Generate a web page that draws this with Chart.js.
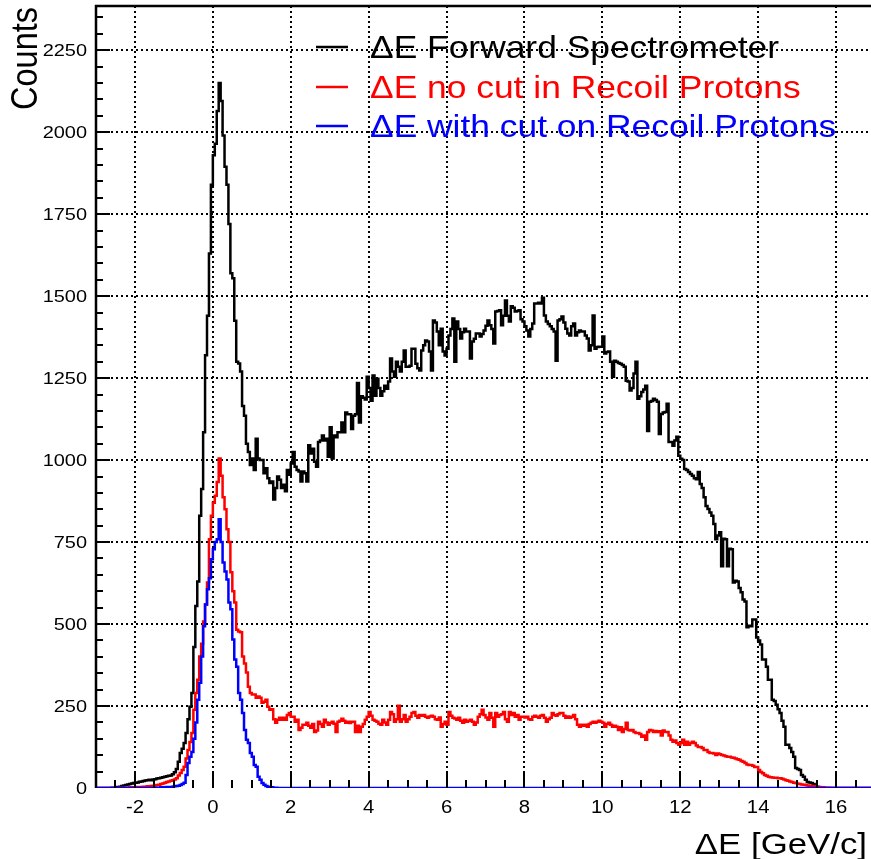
<!DOCTYPE html>
<html>
<head>
<meta charset="utf-8">
<script src="https://cdn.jsdelivr.net/npm/chart.js@4.4.1/dist/chart.umd.min.js"></script>
<style>
  html, body { margin: 0; padding: 0; background: #ffffff; overflow: hidden; }
  #wrap { width: 871px; height: 859px; overflow: hidden; position: relative; }
  canvas { display: block; }
</style>
</head>
<body>
<div id="wrap"><canvas id="c" width="880" height="859"></canvas></div>
<script>
// ---- Data (histograms, bin width 0.05 starting at -3) ----
const binStart = -3;
const binWidth = 0.05;

const forwardCounts = [
  0,0,0,0,0,0,0,0,0,1, 1,2,3,4,6,8,9,11,12,14,
  15,16,17,19,20,21,23,24,25,24, 26,27,29,30,31,33,34,36,37,38,
  42,48,58,80,107,120,137,168,210,248, 290,430,555,630,830,912,1085,1320,1440,1630,
  1840,1930,1965,2065,2150,2095,1990,1895,1840,1720, 1570,1555,1425,1300,1295,1270,1165,1135,1050,1025,
  985,1005,970,1065,1005,1000,1000,960,975,945, 930,935,880,915,950,940,915,925,905,970,
  955,990,1025,980,970,965,935,965,960,935, 1045,1020,1035,995,980,1055,1060,1075,1060,1065,
  1010,1100,1005,1075,1070,1085,1085,1115,1085,1145, 1140,1140,1095,1135,1140,1235,1115,1195,1190,1185,
  1254,1220,1181,1258,1196,1248,1220,1196,1210,1227, 1218,1240,1310,1270,1254,1300,1285,1270,1300,1334,
  1285,1285,1288,1340,1340,1294,1280,1273,1334,1350, 1365,1362,1331,1273,1426,1420,1392,1350,1401,1331,
  1319,1340,1380,1400,1432,1300,1423,1400,1371,1390, 1401,1392,1392,1310,1362,1370,1386,1386,1377,1385,
  1395,1410,1426,1411,1400,1356,1453,1455,1457,1411, 1440,1487,1440,1423,1469,1465,1453,1455,1457,1430,
  1423,1408,1395,1377,1400,1417,1478,1478,1480,1478, 1495,1441,1423,1415,1408,1400,1392,1303,1426,1430,
  1438,1420,1401,1386,1380,1408,1417,1380,1390,1395, 1392,1392,1380,1371,1334,1350,1441,1340,1345,1346,
  1346,1377,1325,1330,1331,1300,1254,1303,1300,1296, 1294,1290,1285,1242,1240,1212,1220,1264,1300,1187,
  1195,1208,1215,1227,1089,1178,1180,1187,1183,1178, 1080,1141,1145,1147,1172,1055,1055,1044,1060,1071,
  1013,1004,1000,973,970,964,958,952,945,942, 964,927,915,887,860,851,840,830,805,759,
  770,780,676,760,759,676,730,728,627,632, 630,610,597,575,569,490,495,493,514,514,
  459,450,438,392,392,370,330,330,269,265, 254,240,229,205,187,132,132,122,110,95,
  61,58,55,40,34,25,18,17,15,12, 6,4,2,1,1,0,0,0,0,0,
  0,0,0,0,0,0,0,0,0,0, 0,0,0,0,0,0,0,0,0,0
];

const noCutCounts = [
  0,0,0,0,0,0,0,0,0,0, 0,0,0,1,0,1,1,1,2,2,
  2,2,3,3,3,4,4,5,5,6, 7,8,9,10,12,14,16,18,20,22,
  24,26,30,38,46,55,65,90,116,140, 168,239,290,330,401,440,508,560,627,759,
  830,870,891,933,1005,952,887,850,789,750, 658,600,566,483,477,475,401,380,352,309,
  290,285,285,275,279,275,260,263,269,248, 239,240,210,199,208,214,208,214,208,223,
  229,217,217,202,208,177,184,193,193,199, 190,184,195,171,175,202,195,187,208,200,
  193,198,202,196,171,202,205,211,205,199, 202,198,202,202,171,190,171,187,195,208,
  217,232,220,208,205,202,196,193,208,200, 193,208,232,225,202,210,251,202,210,223,
  202,210,217,229,232,220,214,223,220,223, 217,214,218,220,217,210,208,215,187,195,
  202,193,232,220,214,212,208,214,205,199, 208,202,205,208,202,193,200,217,225,239,
  223,215,208,229,214,187,229,217,223,225, 232,210,202,232,223,229,217,223,208,217,
  217,215,217,210,208,217,220,217,214,220, 223,214,202,210,214,229,223,220,225,229,
  229,220,214,218,214,217,223,210,193,187, 193,190,193,187,195,199,202,199,202,205,
  202,199,187,195,199,193,187,190,187,177, 185,171,180,199,177,175,177,171,168,168,
  165,156,160,147,171,177,175,171,174,171, 173,160,175,171,171,160,147,141,145,137,
  132,137,147,132,141,132,137,141,137,130, 125,125,122,116,116,110,107,107,105,101,
  105,103,101,99,97,95,95,93,92,90, 88,86,82,80,76,72,70,70,68,64,
  64,55,49,45,40,37,34,33,32,31, 31,30,30,28,26,24,22,20,18,16,
  15,13,12,11,10,9,8,7,6,5, 4,3,3,2,2,1,1,1,0,0,
  0,0,0,0,0,0,0,0,0,0, 0,0,0,0,0,0,0,0,0,0
];

const withCutCounts = [
  0,0,0,0,0,0,0,0,0,0, 0,0,0,0,0,0,0,0,0,0,
  0,0,0,0,0,0,0,0,0,0, 0,1,1,1,2,2,2,3,3,3,
  4,5,6,7,9,12,16,40,76,95, 110,150,200,269,321,401,493,560,606,640,
  698,728,750,759,820,750,688,660,636,566, 545,453,392,370,290,269,229,177,147,137,
  107,95,70,65,34,25,15,10,6,4, 2,2,1,1,0,0,0,0,0,0,
  0,0,0,0,0,0,0,0,0,0, 0,0,0,0,0,0,0,0,0,0,
  0,0,0,0,0,0,0,0,0,0, 0,0,0,0,0,0,0,0,0,0,
  0,0,0,0,0,0,0,0,0,0, 0,0,0,0,0,0,0,0,0,0,
  0,0,0,0,0,0,0,0,0,0, 0,0,0,0,0,0,0,0,0,0,
  0,0,0,0,0,0,0,0,0,0, 0,0,0,0,0,0,0,0,0,0,
  0,0,0,0,0,0,0,0,0,0, 0,0,0,0,0,0,0,0,0,0,
  0,0,0,0,0,0,0,0,0,0, 0,0,0,0,0,0,0,0,0,0,
  0,0,0,0,0,0,0,0,0,0, 0,0,0,0,0,0,0,0,0,0,
  0,0,0,0,0,0,0,0,0,0, 0,0,0,0,0,0,0,0,0,0,
  0,0,0,0,0,0,0,0,0,0, 0,0,0,0,0,0,0,0,0,0,
  0,0,0,0,0,0,0,0,0,0, 0,0,0,0,0,0,0,0,0,0,
  0,0,0,0,0,0,0,0,0,0, 0,0,0,0,0,0,0,0,0,0,
  0,0,0,0,0,0,0,0,0,0, 0,0,0,0,0,0,0,0,0,0,
  0,0,0,0,0,0,0,0,0,0, 0,0,0,0,0,0,0,0,0,0,
  0,0,0,0,0,0,0,0,0,0, 0,0,0,0,0,0,0,0,0,0
];

const seriesLabels = [
  "\u0394E Forward Spectrometer",
  "\u0394E no cut in Recoil Protons",
  "\u0394E with cut on Recoil Protons"
];
const seriesColors = ["#000000", "#ff0000", "#0000ff"];

const xTickValues = [-2, 0, 2, 4, 6, 8, 10, 12, 14, 16];
const xTickLabels = ["-2", "0", "2", "4", "6", "8", "10", "12", "14", "16"];
const yTickValues = [0, 250, 500, 750, 1000, 1250, 1500, 1750, 2000, 2250];
const yTickLabels = ["0", "250", "500", "750", "1000", "1250", "1500", "1750", "2000", "2250"];
const xMinorStep = 0.5;
const yMinorStep = 50;
const xTitle = "\u0394E [GeV/c]";
const yTitle = "Counts";

// ---- build points ----
function toPoints(counts) {
  const pts = counts.map((v, i) => ({ x: binStart + i * binWidth, y: v }));
  pts.push({ x: binStart + counts.length * binWidth, y: counts[counts.length - 1] });
  return pts;
}

const FONT = '"Liberation Sans", Arial, Helvetica, sans-serif';
const SX = 1.16; // horizontal text stretch

function stretchedText(ctx, txt, x, y, size, align, color) {
  ctx.save();
  ctx.translate(x, y);
  ctx.scale(SX, 1);
  ctx.font = size + 'px ' + FONT;
  ctx.fillStyle = color;
  ctx.textAlign = align;
  ctx.textBaseline = 'alphabetic';
  ctx.fillText(txt, 0, 0);
  ctx.restore();
}

const rootStyle = {
  id: 'rootStyle',
  beforeDatasetsDraw(chart) {
    const ctx = chart.ctx;
    const a = chart.chartArea;
    const xs = chart.scales.x, ys = chart.scales.y;
    ctx.save();
    ctx.strokeStyle = '#000';
    ctx.lineWidth = 2;
    ctx.setLineDash([2, 3]);
    xTickValues.forEach(v => {
      const px = Math.round(xs.getPixelForValue(v));
      ctx.beginPath(); ctx.moveTo(px, a.top); ctx.lineTo(px, a.bottom); ctx.stroke();
    });
    yTickValues.forEach(v => {
      if (v === 0) return;
      const py = Math.round(ys.getPixelForValue(v));
      ctx.beginPath(); ctx.moveTo(a.left, py); ctx.lineTo(a.right, py); ctx.stroke();
    });
    ctx.restore();
  },
  afterDatasetsDraw(chart) {
    const ctx = chart.ctx;
    const a = chart.chartArea;
    const xs = chart.scales.x, ys = chart.scales.y;
    ctx.save();
    ctx.setLineDash([]);
    ctx.strokeStyle = '#000';
    // frame
    ctx.lineWidth = 2.5;
    ctx.beginPath();
    ctx.moveTo(a.left, a.bottom); ctx.lineTo(a.left, a.top); ctx.lineTo(a.right, a.top);
    ctx.stroke();
    // x ticks
    ctx.lineWidth = 2;
    for (let v = xs.min + xMinorStep; v < xs.max - 1e-9; v += xMinorStep) {
      const major = xTickValues.some(t => Math.abs(t - v) < 1e-6);
      const px = Math.round(xs.getPixelForValue(v));
      ctx.beginPath();
      ctx.moveTo(px, a.bottom);
      ctx.lineTo(px, a.bottom - (major ? 16 : 8));
      ctx.stroke();
    }
    // y ticks
    for (let v = yMinorStep; v < ys.max; v += yMinorStep) {
      const major = yTickValues.indexOf(v) >= 0;
      const py = Math.round(ys.getPixelForValue(v));
      ctx.beginPath();
      ctx.moveTo(a.left, py);
      ctx.lineTo(a.left + (major ? 14 : 7), py);
      ctx.stroke();
    }
    // tick labels
    xTickValues.forEach((v, i) => {
      stretchedText(ctx, xTickLabels[i], xs.getPixelForValue(v), a.bottom + 25, 17.5, 'center', '#000');
    });
    yTickValues.forEach((v, i) => {
      stretchedText(ctx, yTickLabels[i], a.left - 9, ys.getPixelForValue(v) + 6.2, 17.2, 'right', '#000');
    });
    // axis titles
    stretchedText(ctx, xTitle, 867, 854, 30, 'right', '#000');
    ctx.save();
    ctx.translate(37, 7);
    ctx.scale(SX, 1);
    ctx.rotate(-Math.PI / 2);
    ctx.font = '32.5px ' + FONT;
    ctx.fillStyle = '#000';
    ctx.textAlign = 'right';
    ctx.textBaseline = 'alphabetic';
    ctx.fillText(yTitle, 0, 0);
    ctx.restore();
    // legend
    const legY = [47, 87, 126];
    seriesLabels.forEach((lab, i) => {
      ctx.strokeStyle = seriesColors[i];
      ctx.lineWidth = 2.5;
      ctx.beginPath();
      ctx.moveTo(316, legY[i]); ctx.lineTo(348, legY[i]);
      ctx.stroke();
      stretchedText(ctx, lab, 370, legY[i] + 11, 30.5, 'left', seriesColors[i]);
    });
    ctx.restore();
  }
};

const datasets = [forwardCounts, noCutCounts, withCutCounts].map((counts, i) => ({
  label: seriesLabels[i],
  data: toPoints(counts),
  borderColor: seriesColors[i],
  backgroundColor: seriesColors[i],
  borderWidth: 2.5,
  pointRadius: 0,
  stepped: 'after',
  fill: false,
  tension: 0,
  order: 2 - i
}));

new Chart(document.getElementById('c'), {
  type: 'line',
  data: { datasets },
  options: {
    responsive: false,
    animation: false,
    events: [],
    layout: { padding: { left: 96, right: 5, top: 6, bottom: 71 } },
    plugins: { legend: { display: false }, tooltip: { enabled: false } },
    scales: {
      x: { type: 'linear', min: -3, max: 17, display: false },
      y: { type: 'linear', min: 0, max: 2385, display: false }
    }
  },
  plugins: [rootStyle]
});
</script>
</body>
</html>
